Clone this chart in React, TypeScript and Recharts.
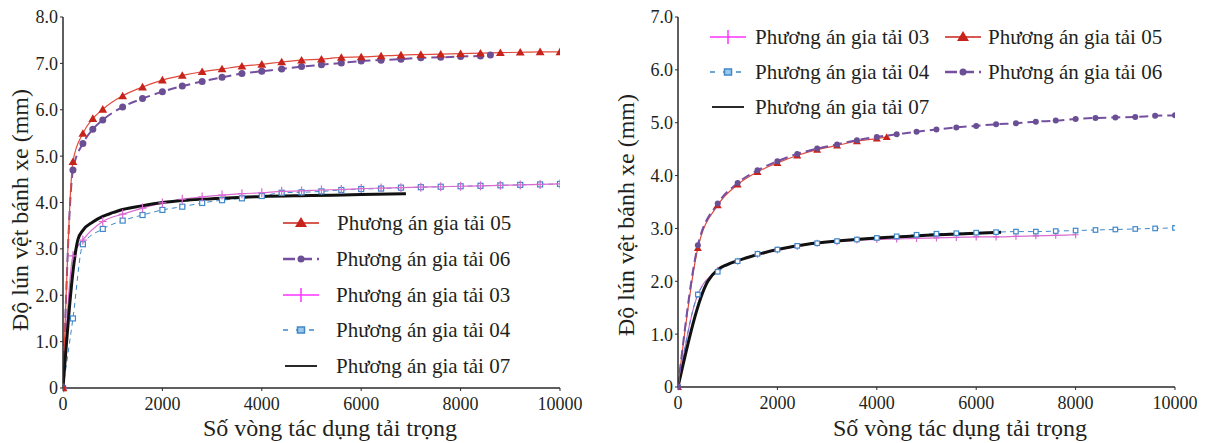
import React from 'react'
import { LineChart, Line, XAxis, YAxis } from 'recharts'

const FONT = '"Liberation Serif", "Times New Roman", serif'
const INK = '#231f20'
const AXIS = '#2a2a2a'

const RED_LINE = '#e04a3c'
const RED_MARK = '#c8231a'
const PURPLE = '#7650a0'
const PURPLE_MARK = '#6a4f94'
const PINK_LINE = '#d96ad0'
const PINK_KEY = '#ff33ff'
const BLUE = '#3f88c8'
const BLACK = '#111111'

const xTicks = [0, 2000, 4000, 6000, 8000, 10000]
const leftYTicks = [0, 1, 2, 3, 4, 5, 6, 7, 8]
const rightYTicks = [0, 1, 2, 3, 4, 5, 6, 7]

// ---- left panel ----
const left05X = [0, 200, 400, 600, 800, 1200, 1600, 2000, 2400, 2800, 3200, 3600, 4000, 4400, 4800, 5200, 5600, 6000, 6400, 6800, 7200, 7600, 8000, 8400, 8800, 9200, 9600, 10000]
const left05Y = [0, 4.88, 5.49, 5.81, 6.01, 6.3, 6.49, 6.64, 6.74, 6.82, 6.88, 6.94, 6.98, 7.03, 7.07, 7.09, 7.13, 7.14, 7.16, 7.18, 7.19, 7.2, 7.21, 7.22, 7.23, 7.24, 7.25, 7.25]

const left06X = [0, 200, 400, 600, 800, 1200, 1600, 2000, 2400, 2800, 3200, 3600, 4000, 4400, 4800, 5200, 5600, 6000, 6400, 6800, 7200, 7600, 8000, 8400, 8600]
const left06Y = [0, 4.7, 5.27, 5.58, 5.78, 6.06, 6.24, 6.39, 6.51, 6.61, 6.7, 6.78, 6.83, 6.88, 6.93, 6.97, 7.01, 7.05, 7.07, 7.09, 7.12, 7.13, 7.15, 7.16, 7.18]

const left03X = [0, 200, 400, 800, 1200, 1600, 2000, 2400, 2800, 3200, 3600, 4000, 4400, 4800, 5200, 5600, 6000, 6400, 6800, 7200, 7600, 8000, 8400, 8800, 9200, 9600, 10000]
const left03Y = [0, 2.85, 3.19, 3.59, 3.75, 3.88, 3.99, 4.07, 4.12, 4.16, 4.19, 4.21, 4.24, 4.25, 4.27, 4.28, 4.3, 4.31, 4.32, 4.33, 4.34, 4.35, 4.36, 4.37, 4.38, 4.39, 4.4]

const left04X = [0, 200, 400, 800, 1200, 1600, 2000, 2400, 2800, 3200, 3600, 4000, 4400, 4800, 5200, 5600, 6000, 6400, 6800, 7200, 7600, 8000, 8400, 8800, 9200, 9600, 10000]
const left04Y = [0, 1.5, 3.1, 3.43, 3.61, 3.73, 3.84, 3.91, 3.99, 4.05, 4.09, 4.14, 4.21, 4.22, 4.24, 4.27, 4.29, 4.3, 4.32, 4.33, 4.34, 4.35, 4.36, 4.37, 4.38, 4.39, 4.4]

const left07X = [0, 300, 400, 600, 800, 1000, 1200, 1600, 2000, 2500, 3000, 4000, 5000, 6000, 6900]
const left07Y = [0, 3.2, 3.4, 3.58, 3.7, 3.78, 3.85, 3.93, 4.0, 4.05, 4.08, 4.13, 4.15, 4.17, 4.19]

// ---- right panel ----
const right05X = [0, 400, 800, 1200, 1600, 2000, 2400, 2800, 3200, 3600, 4000, 4200]
const right05Y = [0, 2.63, 3.44, 3.83, 4.07, 4.24, 4.38, 4.49, 4.57, 4.65, 4.7, 4.73]

const right06X = [0, 400, 800, 1200, 1600, 2000, 2400, 2800, 3200, 3600, 4000, 4400, 4800, 5200, 5600, 6000, 6400, 6800, 7200, 7600, 8000, 8400, 8800, 9200, 9600, 10000]
const right06Y = [0, 2.68, 3.47, 3.86, 4.1, 4.27, 4.41, 4.51, 4.59, 4.67, 4.73, 4.78, 4.83, 4.87, 4.91, 4.94, 4.97, 4.99, 5.02, 5.04, 5.07, 5.09, 5.1, 5.11, 5.13, 5.14]

const right03X = [0, 400, 800, 1200, 1600, 2000, 2400, 2800, 3200, 3600, 4000, 4400, 4800, 5200, 5600, 6000, 6400, 6800, 7200, 7600, 8000]
const right03Y = [0, 1.75, 2.21, 2.38, 2.51, 2.59, 2.66, 2.72, 2.75, 2.78, 2.79, 2.8, 2.81, 2.82, 2.83, 2.84, 2.84, 2.85, 2.86, 2.87, 2.88]

const right04X = [0, 400, 800, 1200, 1600, 2000, 2400, 2800, 3200, 3600, 4000, 4400, 4800, 5200, 5600, 6000, 6400, 6800, 7200, 7600, 8000, 8400, 8800, 9200, 9600, 10000]
const right04Y = [0, 1.75, 2.18, 2.38, 2.52, 2.6, 2.67, 2.72, 2.76, 2.79, 2.82, 2.85, 2.88, 2.9, 2.91, 2.92, 2.93, 2.94, 2.94, 2.95, 2.96, 2.97, 2.98, 2.99, 3.0, 3.01]

const right07X = [0, 600, 800, 1000, 1400, 2000, 2600, 3200, 4000, 5000, 6000, 6500]
const right07Y = [0, 2.0, 2.22, 2.32, 2.45, 2.6, 2.7, 2.76, 2.82, 2.87, 2.91, 2.93]

const pts = (xs: number[], ys: number[]) => xs.map((x, i) => ({ x, y: ys[i] }))

const LABEL = 'Phương án gia tải '
const xTitle = 'Số vòng tác dụng tải trọng'
const yTitle = 'Độ lún vệt bánh xe (mm)'

// marker shapes
const tri = (s: number) => (p: any) => (
  <path key={'t' + p.index} d={`M${p.cx},${p.cy - s}L${p.cx + s * 1.05},${p.cy + s * 0.8}L${p.cx - s * 1.05},${p.cy + s * 0.8}Z`} fill={RED_MARK} />
)
const dotC = (r: number) => (p: any) => <circle key={'c' + p.index} cx={p.cx} cy={p.cy} r={r} fill={PURPLE_MARK} />
const plus = (h: number, v: number) => (p: any) => (
  <path key={'p' + p.index} d={`M${p.cx - h},${p.cy}H${p.cx + h}M${p.cx},${p.cy - v}V${p.cy + v}`} stroke={PINK_LINE} strokeWidth={1.2} fill="none" />
)
const sq = (s: number) => (p: any) => (
  <rect key={'s' + p.index} x={p.cx - s / 2} y={p.cy - s / 2} width={s} height={s} fill="#fff" stroke={BLUE} strokeWidth={1.2} />
)

const tickStyle = { fill: INK, fontSize: 18, fontFamily: FONT }
const yFmt = (v: number) => (v === 0 ? '0' : v.toFixed(1))

function Sample({ kind }: { kind: string }) {
  return (
    <svg width={40} height={20} style={{ display: 'block' }}>
      {kind === '05' && (
        <>
          <line x1={2} x2={38} y1={10} y2={10} stroke={RED_MARK} strokeWidth={1.5} />
          <path d="M20,4L26,14L14,14Z" fill={RED_MARK} />
        </>
      )}
      {kind === '06' && (
        <>
          <line x1={2} x2={38} y1={10} y2={10} stroke={PURPLE} strokeWidth={2.5} strokeDasharray="12 5" />
          <circle cx={20} cy={10} r={3.5} fill={PURPLE_MARK} />
        </>
      )}
      {kind === '03' && (
        <>
          <line x1={2} x2={38} y1={10} y2={10} stroke={PINK_KEY} strokeWidth={1.5} />
          <line x1={20} x2={20} y1={3} y2={17} stroke={PINK_KEY} strokeWidth={1.5} />
        </>
      )}
      {kind === '04' && (
        <>
          <line x1={2} x2={38} y1={10} y2={10} stroke={BLUE} strokeWidth={1.5} strokeDasharray="5 8" />
          <rect x={16.5} y={7} width={7} height={6} fill="#9cc8ec" stroke={BLUE} strokeWidth={1.5} />
        </>
      )}
      {kind === '07' && <line x1={4} x2={36} y1={10} y2={10} stroke={BLACK} strokeWidth={1.8} />}
    </svg>
  )
}

function KeyRow({ kind, sx, tx, y }: { kind: string; sx: number; tx: number; y: number }) {
  return (
    <>
      <div style={{ position: 'absolute', left: sx - 2, top: y - 10 }}>
        <Sample kind={kind} />
      </div>
      <div style={{ position: 'absolute', left: tx, top: y - 12, height: 24, lineHeight: '24px', fontSize: 21, fontFamily: FONT, color: INK, whiteSpace: 'nowrap' }}>
        {LABEL + kind}
      </div>
    </>
  )
}

function XTitle({ cx }: { cx: number }) {
  return (
    <div style={{ position: 'absolute', left: cx - 200, top: 414, width: 400, height: 28, lineHeight: '28px', textAlign: 'center', fontSize: 24, fontFamily: FONT, color: INK, whiteSpace: 'nowrap' }}>
      {xTitle}
    </div>
  )
}

function YTitle({ cx, cy }: { cx: number; cy: number }) {
  return (
    <div style={{ position: 'absolute', left: cx - 150, top: cy - 14, width: 300, height: 28, lineHeight: '28px', textAlign: 'center', fontSize: 24, fontFamily: FONT, color: INK, whiteSpace: 'nowrap', transform: 'rotate(-90deg)' }}>
      {yTitle}
    </div>
  )
}

function Frame({ yMax }: { yMax: number }) {
  return (
    <>
      <XAxis xAxisId="top" orientation="top" type="number" domain={[0, 10000]} ticks={[]} tick={false} tickLine={false} height={0} axisLine={{ stroke: AXIS, strokeWidth: 1.5 }} />
      <YAxis yAxisId="right" orientation="right" type="number" domain={[0, yMax]} ticks={[]} tick={false} tickLine={false} width={0} axisLine={{ stroke: AXIS, strokeWidth: 1.5 }} />
    </>
  )
}

export default function App() {
  return (
    <div style={{ position: 'absolute', left: 0, top: 0, width: 1206, height: 443, background: '#fff', overflow: 'hidden' }}>
      {/* left panel */}
      <div style={{ position: 'absolute', left: 0, top: 0 }}>
        <LineChart width={600} height={443} margin={{ top: 17, right: 40, bottom: 0, left: 13 }}>
          <XAxis dataKey="x" type="number" domain={[0, 10000]} ticks={xTicks} allowDataOverflow height={55} tick={tickStyle} tickSize={3} tickMargin={6} stroke={AXIS} axisLine={{ stroke: AXIS, strokeWidth: 1.5 }} />
          <YAxis type="number" domain={[0, 8]} ticks={leftYTicks} width={50} tick={tickStyle} tickFormatter={yFmt} tickSize={3} tickMargin={2} stroke={AXIS} axisLine={{ stroke: AXIS, strokeWidth: 1.5 }} />
          {Frame({ yMax: 8 })}
          <Line data={pts(left04X, left04Y)} dataKey="y" type="monotone" stroke={BLUE} strokeWidth={1} strokeDasharray="5 4" dot={sq(5)} isAnimationActive={false} />
          <Line data={pts(left03X, left03Y)} dataKey="y" type="monotone" stroke={PINK_LINE} strokeWidth={1.2} dot={plus(4, 4.5)} isAnimationActive={false} />
          <Line data={pts(left06X, left06Y)} dataKey="y" type="monotone" stroke={PURPLE} strokeWidth={2} strokeDasharray="9 5" dot={dotC(3.5)} isAnimationActive={false} />
          <Line data={pts(left05X, left05Y)} dataKey="y" type="monotone" stroke={RED_LINE} strokeWidth={1.2} dot={tri(4.2)} isAnimationActive={false} />
          <Line data={pts(left07X, left07Y)} dataKey="y" type="monotone" stroke={BLACK} strokeWidth={3} dot={false} isAnimationActive={false} />
        </LineChart>
      </div>
      <YTitle cx={20} cy={210} />
      <XTitle cx={330} />
      <KeyRow kind="05" sx={283} tx={337} y={223} />
      <KeyRow kind="06" sx={283} tx={336} y={259} />
      <KeyRow kind="03" sx={283} tx={336} y={295} />
      <KeyRow kind="04" sx={283} tx={336} y={330} />
      <KeyRow kind="07" sx={283} tx={336} y={366} />

      {/* right panel */}
      <div style={{ position: 'absolute', left: 606, top: 0 }}>
        <LineChart width={600} height={443} margin={{ top: 17, right: 31, bottom: 0, left: 22 }}>
          <XAxis dataKey="x" type="number" domain={[0, 10000]} ticks={xTicks} allowDataOverflow height={56} tick={tickStyle} tickSize={3} tickMargin={6} stroke={AXIS} axisLine={{ stroke: AXIS, strokeWidth: 1.5 }} />
          <YAxis type="number" domain={[0, 7]} ticks={rightYTicks} width={50} tick={tickStyle} tickFormatter={yFmt} tickSize={3} tickMargin={2} stroke={AXIS} axisLine={{ stroke: AXIS, strokeWidth: 1.5 }} />
          {Frame({ yMax: 7 })}
          <Line data={pts(right03X, right03Y)} dataKey="y" type="monotone" stroke={PINK_LINE} strokeWidth={1.2} dot={plus(3, 3.5)} isAnimationActive={false} />
          <Line data={pts(right04X, right04Y)} dataKey="y" type="monotone" stroke={BLUE} strokeWidth={1} strokeDasharray="5 4" dot={sq(4.5)} isAnimationActive={false} />
          <Line data={pts(right07X, right07Y)} dataKey="y" type="monotone" stroke={BLACK} strokeWidth={3} dot={false} isAnimationActive={false} />
          <Line data={pts(right05X, right05Y)} dataKey="y" type="monotone" stroke={RED_LINE} strokeWidth={1.2} dot={tri(3.8)} isAnimationActive={false} />
          <Line data={pts(right06X, right06Y)} dataKey="y" type="monotone" stroke={PURPLE} strokeWidth={2} strokeDasharray="9 5" dot={dotC(3)} isAnimationActive={false} />
        </LineChart>
      </div>
      <YTitle cx={626} cy={215} />
      <XTitle cx={960} />
      <KeyRow kind="03" sx={710} tx={755} y={37} />
      <KeyRow kind="04" sx={710} tx={755} y={72} />
      <KeyRow kind="07" sx={710} tx={755} y={107} />
      <KeyRow kind="05" sx={945} tx={988} y={37} />
      <KeyRow kind="06" sx={945} tx={988} y={72} />
    </div>
  )
}
